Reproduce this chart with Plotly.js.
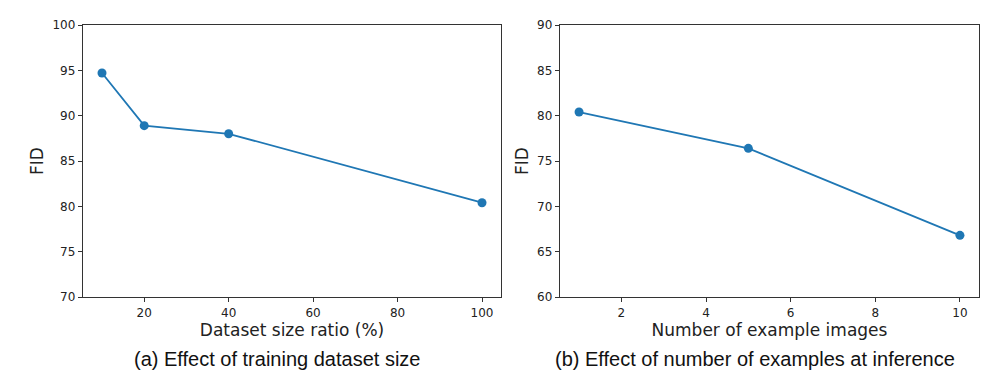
<!DOCTYPE html>
<html>
<head>
<meta charset="utf-8">
<script src="https://cdn.plot.ly/plotly-3.0.1.min.js"></script>
<style>html,body{margin:0;padding:0;background:#fff;}#chart{width:1003px;height:374px;}</style>
</head>
<body>
<div id="chart"></div>
<script>
// Panel (a): effect of training dataset size
const datasetRatio = [10, 20, 40, 100];
const fidDataset = [94.7, 88.9, 88.0, 80.4];
// Panel (b): effect of number of examples at inference
const numExamples = [1, 5, 10];
const fidExamples = [80.4, 76.4, 66.8];

const captionA = "(a) Effect of training dataset size";
const captionB = "(b) Effect of number of examples at inference";
const xTitleA = "Dataset size ratio (%)";
const xTitleB = "Number of example images";
const yTitle = "FID";

const blue = "#1f77b4";
const frame = "#333333";
const tickFont = {family: "DejaVu Sans", size: 12, color: "#222"};
const titleFont = {family: "DejaVu Sans", size: 17, color: "#222"};

const traces = [
  {x: datasetRatio, y: fidDataset, type: "scatter", mode: "lines+markers",
   line: {color: blue, width: 1.8}, marker: {color: blue, size: 9},
   xaxis: "x", yaxis: "y", hoverinfo: "x+y"},
  {x: numExamples, y: fidExamples, type: "scatter", mode: "lines+markers",
   line: {color: blue, width: 1.8}, marker: {color: blue, size: 9},
   xaxis: "x2", yaxis: "y2", hoverinfo: "x+y"}
];

function axis(extra) {
  return Object.assign({
    showline: true, mirror: true, linecolor: frame, linewidth: 1.2,
    ticks: "outside", ticklen: 4, tickwidth: 1, tickcolor: frame,
    showgrid: false, zeroline: false, tickfont: tickFont
  }, extra);
}

const yDom = [77/374, 349/374];

const layout = {
  width: 1003, height: 374,
  margin: {l: 0, r: 0, t: 0, b: 0},
  paper_bgcolor: "#fff", plot_bgcolor: "#fff",
  showlegend: false,
  xaxis: axis({domain: [83/1003, 501/1003], anchor: "y", range: [5.5, 104.5],
    tickvals: [20, 40, 60, 80, 100],
    title: {text: xTitleA, font: titleFont, standoff: 4}}),
  yaxis: axis({domain: yDom, anchor: "x", range: [70, 100],
    tickvals: [70, 75, 80, 85, 90, 95, 100],
    title: {text: yTitle, font: titleFont, standoff: 4}}),
  xaxis2: axis({domain: [560/1003, 979/1003], anchor: "y2", range: [0.55, 10.45],
    tickvals: [2, 4, 6, 8, 10],
    title: {text: xTitleB, font: titleFont, standoff: 4}}),
  yaxis2: axis({domain: yDom, anchor: "x2", range: [60, 90],
    tickvals: [60, 65, 70, 75, 80, 85, 90],
    title: {text: yTitle, font: titleFont, standoff: 4}}),
  annotations: [
    {text: captionA, xref: "paper", yref: "paper", x: 277/1003, y: 1 - 359/374,
     xanchor: "center", yanchor: "middle", showarrow: false,
     font: {family: "Liberation Sans, Arial, sans-serif", size: 20, color: "#111"}},
    {text: captionB, xref: "paper", yref: "paper", x: 755/1003, y: 1 - 359/374,
     xanchor: "center", yanchor: "middle", showarrow: false,
     font: {family: "Liberation Sans, Arial, sans-serif", size: 20, color: "#111"}}
  ]
};

Plotly.newPlot("chart", traces, layout, {staticPlot: true, displayModeBar: false});
</script>
</body>
</html>
